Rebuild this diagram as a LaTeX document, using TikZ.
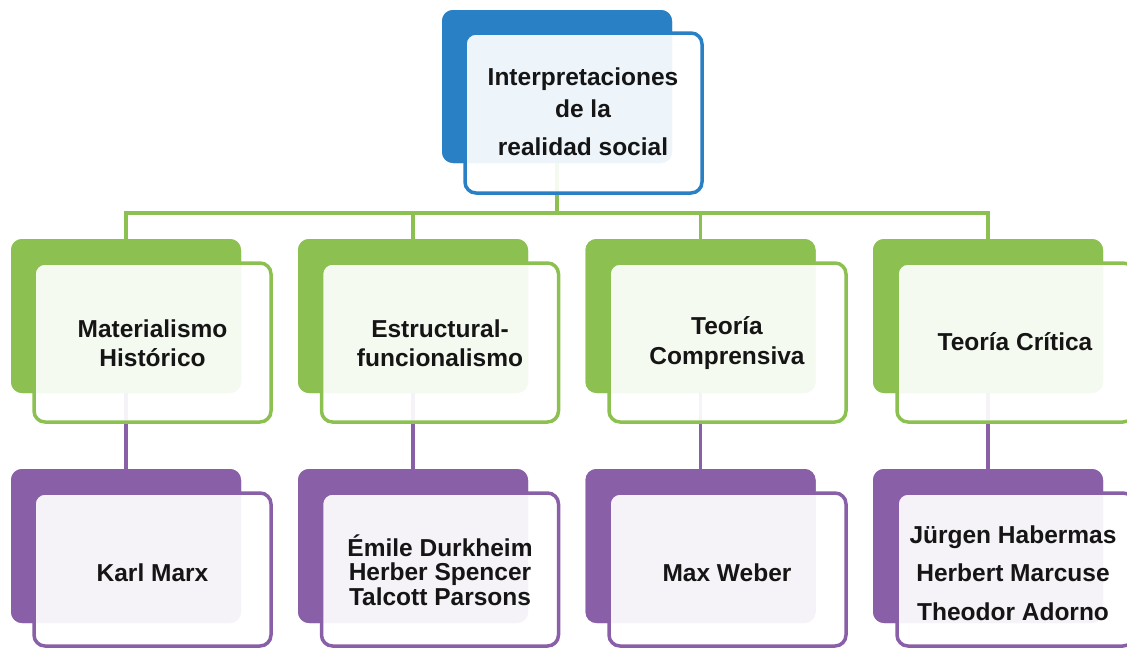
\documentclass[tikz,border=0pt]{standalone}
\usepackage{fontspec}
\setmainfont{Liberation Sans}
\begin{document}
\begin{tikzpicture}[x=1pt,y=-1pt,
  backbox/.style={fill=#1, draw=none, rounded corners=11pt, minimum width=230pt, minimum height=154pt, inner sep=0pt, outer sep=0pt},
  frontbox/.style={fill=white, fill opacity=0.92, draw=#1, line width=3.5pt, rounded corners=11pt, minimum width=237pt, inner sep=0pt},
  lbl/.style={font=\bfseries\fontsize{24.5}{#1}\selectfont, align=center, text=txt, inner sep=0pt},
  conn/.style={draw=#1, line width=3.5pt}]
\definecolor{cblue}{HTML}{2A80C4}
\definecolor{cgreen}{HTML}{8CC152}
\definecolor{cpurple}{HTML}{8960A8}
\definecolor{txt}{HTML}{151515}
\useasboundingbox (0,0) rectangle (1127,648);
\clip (0,0) rectangle (1127,648);

\coordinate (hub) at (557,213);
\node[backbox=cblue, minimum height=153pt] (t0b) at (557,86.5) {};
\foreach \i/\x in {1/126,2/413,3/700.5,4/988}{
  \node[backbox=cgreen] (g\i b) at (\x,316) {};
  \node[backbox=cpurple] (p\i b) at (\x,546) {};
}

% connectors (behind front boxes)
\draw[conn=cgreen] (t0b.center) -- (t0b.center |- hub);
\draw[conn=cgreen, line cap=rect] (g1b.center |- hub) -- (g4b.center |- hub);
\foreach \i in {1,2,3,4}{
  \draw[conn=cgreen] (g\i b.center |- hub) -- (g\i b.north);
  \draw[conn=cpurple] (g\i b.center) -- (p\i b.north);
}
% redraw back boxes on top of connectors
\node[backbox=cblue, minimum height=153pt] at (t0b) {};
\foreach \i/\x in {1/126,2/413,3/700.5,4/988}{
  \node[backbox=cgreen] at (g\i b) {};
  \node[backbox=cpurple] at (p\i b) {};
}

% front boxes
\node[frontbox=cblue, minimum height=160pt] (t0) at (583.5,113) {};
\foreach \i/\x in {1/152.5,2/440,3/727.5,4/1015.5}{
  \node[frontbox=cgreen, minimum height=159pt] (g\i) at (\x,342.5) {};
  \node[frontbox=cpurple, minimum height=153pt] (p\i) at (\x,569.5) {};
}

% labels
\node[lbl=32pt] (tl) at (583,112) {Interpretaciones\\de la\\[6pt]realidad social};
\node[lbl=29.5pt] (g1l) at (152.5,343) {Materialismo\\Histórico};
\node[lbl=29.5pt] (g2l) at (440,343) {Estructural-\\funcionalismo};
\node[lbl=29.5pt] (g3l) at (727,343) {Teoría\\Comprensiva};
\node[lbl=29.5pt] (g4l) at (1015,342) {Teoría Crítica};
\node[lbl=29pt] (p1l) at (152.5,573) {Karl Marx};
\node[lbl=24.5pt] (p2l) at (440,570) {Émile Durkheim\\Herber Spencer\\Talcott Parsons};
\node[lbl=29pt] (p3l) at (727,573) {Max Weber};
\node[lbl=38.5pt] (p4l) at (1013,573) {Jürgen Habermas\\Herbert Marcuse\\Theodor Adorno};
\end{tikzpicture}
\end{document}
